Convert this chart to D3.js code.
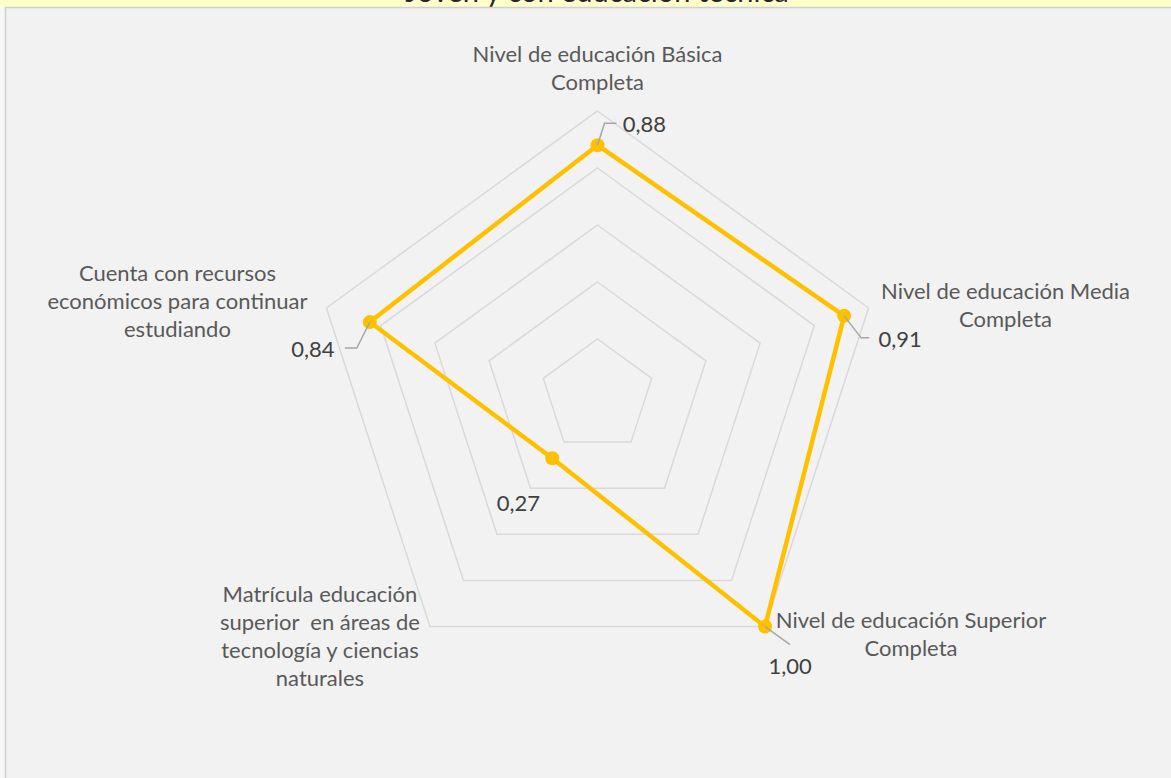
<!DOCTYPE html>
<html><head><meta charset="utf-8">
<script src="https://cdn.jsdelivr.net/npm/d3@7"></script>
<style>
html,body{margin:0;padding:0;background:#f7f7f7;overflow:hidden;}
svg{display:block;}
</style></head>
<body>
<script>
const categories = [
  ["Nivel de educación Básica","Completa"],
  ["Nivel de educación Media","Completa"],
  ["Nivel de educación Superior","Completa"],
  ["Matrícula educación","superior  en áreas de","tecnología y ciencias","naturales"],
  ["Cuenta con recursos","económicos para continuar","estudiando"]
];
const values = [0.88, 0.91, 1.00, 0.27, 0.84];
const valueLabels = ["0,88","0,91","1,00","0,27","0,84"];
const gridLevels = [0.2, 0.4, 0.6, 0.8, 1.0];
const titleText = "Joven y con educación técnica";

const W = 1171, H = 778;
const cx = 597.5, cy = 396, R = 285;
const font = "Lato, 'Open Sans', sans-serif";
const fs = 22;

const svg = d3.select("body").append("svg").attr("width", W).attr("height", H);

// title band
svg.append("rect").attr("x",0).attr("y",0).attr("width",W).attr("height",7).attr("fill","#ffffcc");
svg.append("text").attr("x",597).attr("y",1.5).attr("text-anchor","middle")
  .attr("font-family",font).attr("font-size",29).attr("fill","#262626")
  .style("white-space","pre").text(titleText);
// chart area
svg.append("rect").attr("x",5.5).attr("y",7.5).attr("width",W+20).attr("height",H+20)
  .attr("fill","#f2f2f2").attr("stroke","#d0d0d0").attr("stroke-width",1.5);

const n = categories.length;
const angle = d3.scaleLinear().domain([0, n]).range([0, 2*Math.PI]);
const r = d3.scaleLinear().domain([0, 1]).range([0, R]);
const pt = (i, v) => [cx + r(v)*Math.sin(angle(i)), cy - r(v)*Math.cos(angle(i))];

const g = svg.append("g");
const line = d3.line();
gridLevels.forEach(lv => {
  const pts = d3.range(n).map(i => pt(i, lv));
  g.append("path").attr("d", line(pts) + "Z").attr("fill","none")
    .attr("stroke","#d9d9d9").attr("stroke-width",1.5);
});

// series
const sp = values.map((v,i) => pt(i, v));
g.append("path").attr("d", line(sp) + "Z").attr("fill","none")
  .attr("stroke","#ffc000").attr("stroke-width",4.5).attr("stroke-linejoin","round");
g.selectAll("circle.pt").data(sp).join("circle").attr("class","pt")
  .attr("cx", d=>d[0]).attr("cy", d=>d[1]).attr("r",7).attr("fill","#ffc000");

// category labels (block centre offsets from outer vertex)
const catPos = [
  {dx:0, dy:-42.5},
  {dx:137, dy:-3},
  {dx:146, dy:8},
  {dx:-110, dy:9.5},
  {dx:-149, dy:-7}
];
const lh = 28;
categories.forEach((lines, i) => {
  const p = pt(i, 1);
  const x = p[0] + catPos[i].dx;
  const yc = p[1] + catPos[i].dy;
  const y0 = yc - (lines.length-1)*lh/2;
  const t = svg.append("text").attr("text-anchor","middle").attr("font-family",font)
    .attr("font-size",fs).attr("fill","#595959").style("white-space","pre");
  lines.forEach((s,k) => t.append("tspan").attr("x",x).attr("y",y0 + k*lh).attr("dy","0.35em").text(s));
});

// data labels with leaders
const lblOff = [
  {dx:47, dy:-21, leader:[[7,-22],[19,-22]]},
  {dx:56, dy:23, leader:[[17,22],[25,22]]},
  {dx:25, dy:40, leader:[[25,18]]},
  {dx:-34, dy:45, leader:null},
  {dx:-57, dy:27, leader:[[-13,26],[-25,26]]}
];
sp.forEach((p, i) => {
  const o = lblOff[i];
  if (o.leader) {
    const pts = [p].concat(o.leader.map(d => [p[0]+d[0], p[1]+d[1]]));
    svg.append("path").attr("d", line(pts)).attr("fill","none").attr("stroke","#a6a6a6").attr("stroke-width",1.5);
  }
  svg.append("text").attr("x", p[0]+o.dx).attr("y", p[1]+o.dy).attr("dy","0.35em")
    .attr("text-anchor","middle").attr("font-family",font).attr("font-size",fs)
    .attr("fill","#404040").text(valueLabels[i]);
});
</script>
</body></html>
